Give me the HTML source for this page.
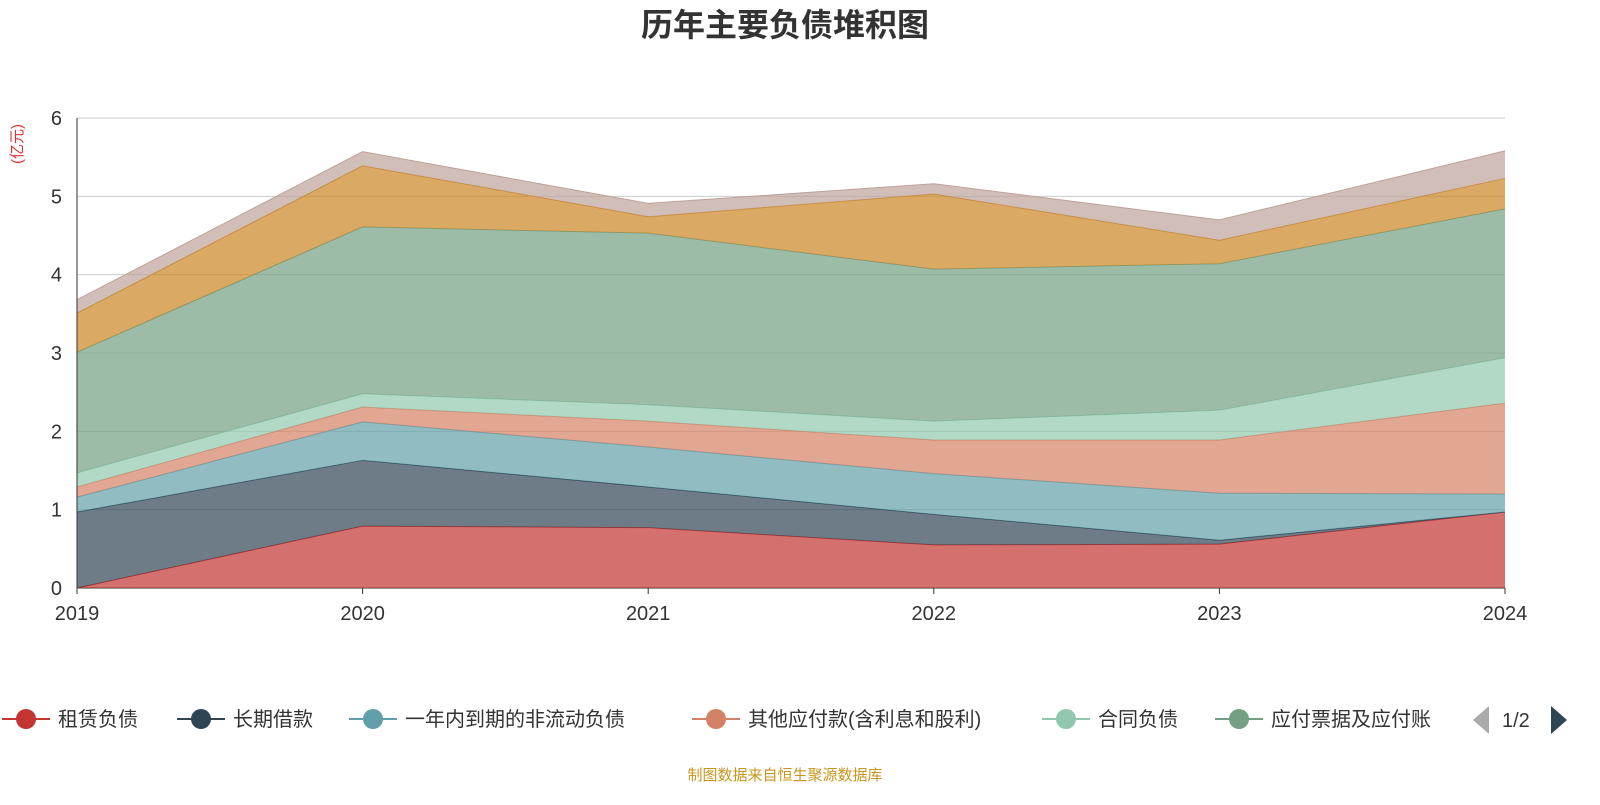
<!DOCTYPE html>
<html><head><meta charset="utf-8"><style>
body{margin:0;background:#fff;width:1600px;height:800px;overflow:hidden;font-family:"Liberation Sans","Noto Sans CJK SC",sans-serif}
</style></head><body>
<svg id="c" width="1600" height="800" xmlns="http://www.w3.org/2000/svg">
<text x="785" y="36" text-anchor="middle" font-size="32" font-weight="bold" fill="#333" font-family="Liberation Sans,Noto Sans CJK SC,sans-serif">历年主要负债堆积图</text>
<text transform="translate(22,144) rotate(-90)" text-anchor="middle" font-size="15" fill="#e03030" font-family="Liberation Sans,Noto Sans CJK SC,sans-serif">(亿元)</text>
<g id="grid"></g><g id="areas"></g><g id="axes"></g><g id="legend"></g>
<text x="785" y="780" text-anchor="middle" font-size="15" fill="#c8961e" font-family="Liberation Sans,Noto Sans CJK SC,sans-serif">制图数据来自恒生聚源数据库</text>
</svg>
<script>
const years=['2019','2020','2021','2022','2023','2024'];
const seriesNames=['租赁负债','长期借款','一年内到期的非流动负债','其他应付款(含利息和股利)','合同负债','应付票据及应付账款','短期借款','其他'];
const rent=[0,0.79,0.77,0.55,0.56,0.97];
const loan=[0.97,0.84,0.52,0.39,0.05,0];
const curNC=[0.19,0.49,0.51,0.52,0.60,0.23];
const otherPay=[0.13,0.19,0.33,0.43,0.68,1.16];
const contract=[0.18,0.17,0.21,0.24,0.38,0.58];
const payable=[1.54,2.13,2.19,1.94,1.87,1.90];
const shortLoan=[0.50,0.78,0.21,0.96,0.30,0.39];
const other=[0.17,0.18,0.17,0.13,0.26,0.35];
const yTicks=[0,1,2,3,4,5,6];
const colors=['#c23531','#2f4554','#61a0a8','#d48265','#91c7ae','#749f83','#ca8622','#bda29a'];
const NS='http://www.w3.org/2000/svg';
const X=i=>77+i*(1505-77)/(years.length-1);
const Y=v=>588-v*(588-118)/6;
function el(t,a,p){const e=document.createElementNS(NS,t);for(const k in a)e.setAttribute(k,a[k]);document.getElementById(p).appendChild(e);return e;}
yTicks.forEach(t=>{
 const l=el('line',{x1:77,x2:1505,y1:Y(t),y2:Y(t),stroke:t===0?'#333':'#ccc','stroke-width':1},'grid');
 
 
 const tx=el('text',{x:62,y:Y(t)+7,'text-anchor':'end','font-size':20,fill:'#333'},'axes');tx.textContent=t;
 
 
});
el('line',{x1:77,x2:77,y1:118,y2:588,stroke:'#333'},'axes');
years.forEach((y,i)=>{
 el('line',{x1:X(i),x2:X(i),y1:588,y2:594,stroke:'#333'},'axes');
 const tx=el('text',{x:X(i),y:620,'text-anchor':'middle','font-size':20,fill:'#333'},'axes');tx.textContent=y;
 
 
});
const all=[rent,loan,curNC,otherPay,contract,payable,shortLoan,other];
let base=years.map(()=>0);
all.forEach((s,k)=>{
 const top=base.map((b,i)=>b+s[i]);
 let d='M'+top.map((v,i)=>X(i)+','+Y(v)).join('L');
 for(let i=years.length-1;i>=0;i--)d+='L'+X(i)+','+Y(base[i]);
 const p=el('path',{d:d+'Z',fill:colors[k],'fill-opacity':0.7,stroke:'none'},'areas');
 
 
 el('polyline',{points:top.map((v,i)=>X(i)+','+Y(v)).join(' '),fill:'none',stroke:colors[k],'stroke-width':1},'areas');
 base=top;
});
const lx=[0,175,347,690,1040,1213];
const lw=[0,0,0,0,0,0];
lx.forEach((x,k)=>{
 el('line',{x1:x+2,x2:x+50,y1:719,y2:719,stroke:colors[k],'stroke-width':2},'legend');
 const c=el('circle',{cx:x+26,cy:719,r:10,fill:colors[k]},'legend');
 
 
 const t=el('text',{x:x+58,y:726,'font-size':20,fill:'#333'},'legend');
 t.textContent=k===5?'应付票据及应付账':seriesNames[k];
 
 
});
const pl=el('path',{d:'M1489,706L1489,734L1473,720Z',fill:'#aaa'},'legend');


const pt=el('text',{x:1502,y:727,'font-size':20,fill:'#333'},'legend');pt.textContent='1/2';


const pn=el('path',{d:'M1551,706L1551,734L1567,720Z',fill:'#2f4554'},'legend');


</script>
</body></html>
